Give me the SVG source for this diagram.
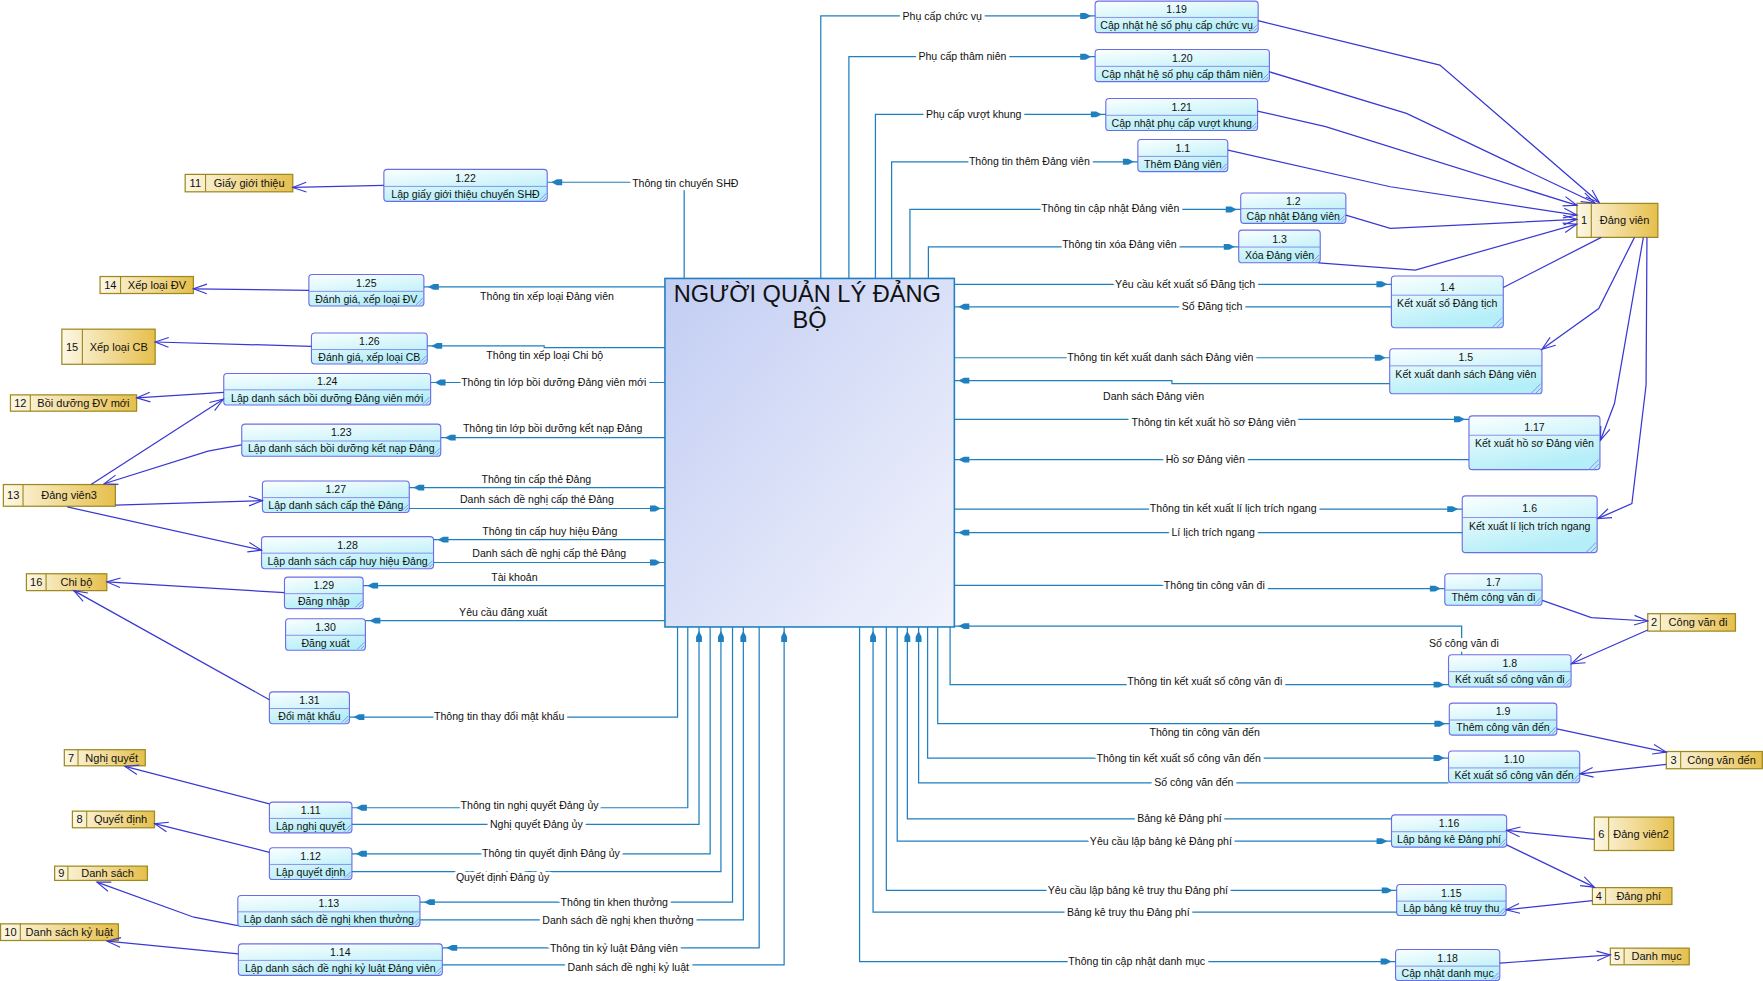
<svg xmlns="http://www.w3.org/2000/svg" width="1763" height="981" viewBox="0 0 1763 981">
<defs>
<linearGradient id="pg" x1="0" y1="0" x2="0.4" y2="1"><stop offset="0" stop-color="#fbffff"/><stop offset="1" stop-color="#b4eef8"/></linearGradient>
<linearGradient id="sg" x1="0" y1="0" x2="1" y2="0"><stop offset="0" stop-color="#fdf8e6"/><stop offset="1" stop-color="#e6bf4c"/></linearGradient>
<linearGradient id="mg" x1="0" y1="0" x2="1" y2="1"><stop offset="0" stop-color="#c2cdf3"/><stop offset="1" stop-color="#f1f3fc"/></linearGradient>
<marker id="a" markerUnits="userSpaceOnUse" markerWidth="16" markerHeight="8" refX="0" refY="0" orient="auto" overflow="visible"><path d="M-13.3,-2.6 L-8.6,-2.6 L-3.6,0 L-8.6,2.6 L-13.3,2.6 Z" fill="#1f7fbf"/></marker>
<marker id="o" markerUnits="userSpaceOnUse" markerWidth="14" markerHeight="12" refX="12" refY="6" orient="auto" overflow="visible"><path d="M0,1.7 L12,6 L0,10.3" fill="none" stroke="#3838d4" stroke-width="1"/></marker>
</defs>
<style>
text{font-family:"Liberation Sans",Arial,sans-serif;font-size:9.4px;fill:#111;text-anchor:middle}
.p rect{fill:url(#pg);stroke:#6c6ce6;stroke-width:1}
.p line,.p path{stroke:#8484ea;stroke-width:0.8;fill:none}
.s rect{fill:url(#sg);stroke:#9c8a20;stroke-width:1.1}
.s line{stroke:#9c8a20;stroke-width:1}
.s text{font-size:9.8px}
.f polyline{fill:none;stroke:#1f7fbf;stroke-width:1.1;marker-end:url(#a)}
.d polyline{fill:none;stroke:#3838d4;stroke-width:1.1;marker-end:url(#o)}
.d polyline.n{marker-end:none}
.l{paint-order:stroke;stroke:#fff;stroke-width:6px;stroke-linejoin:round}
.title{font-size:21px;fill:#111}
</style>
<rect width="1763" height="981" fill="#fff"/>
<g transform="scale(1.12436,1.125)">
<g id="main">
<rect x="591.4" y="247.5" width="257.4" height="309.8" fill="url(#mg)" stroke="#1f7fbf" stroke-width="1.4"/>
<text class="title" x="718" y="268.3">NGƯỜI QUẢN LÝ ĐẢNG</text>
<text class="title" x="720" y="291.8">BỘ</text>
</g>
<g id="processes">
<g id="p1_19" class="p"><rect x="974" y="1" width="145" height="28" rx="3"/><line x1="974" y1="15.5" x2="1119" y2="15.5"/><path d="M1118,22 L1112,28 M1118,25 L1115,28"/><text x="1046.5" y="11.5">1.19</text><text x="1046.5" y="25.5">Cập nhật hệ số phụ cấp chức vụ</text></g>
<g id="p1_20" class="p"><rect x="974" y="44" width="155" height="28.5" rx="3"/><line x1="974" y1="59" x2="1129" y2="59"/><path d="M1128,65.5 L1122,71.5 M1128,68.5 L1125,71.5"/><text x="1051.5" y="55">1.20</text><text x="1051.5" y="69">Cập nhật hệ số phụ cấp thâm niên</text></g>
<g id="p1_21" class="p"><rect x="983.5" y="87.5" width="135" height="28.5" rx="3"/><line x1="983.5" y1="102.5" x2="1118.5" y2="102.5"/><path d="M1117.5,109 L1111.5,115 M1117.5,112 L1114.5,115"/><text x="1051" y="98.5">1.21</text><text x="1051" y="112.5">Cập nhật phụ cấp vượt khung</text></g>
<g id="p1_1" class="p"><rect x="1012" y="124" width="80" height="28.5" rx="3"/><line x1="1012" y1="139" x2="1092" y2="139"/><path d="M1091,145.5 L1085,151.5 M1091,148.5 L1088,151.5"/><text x="1052" y="135">1.1</text><text x="1052" y="149">Thêm Đảng viên</text></g>
<g id="p1_2" class="p"><rect x="1103.5" y="171.5" width="93.5" height="27" rx="3"/><line x1="1103.5" y1="185.5" x2="1197" y2="185.5"/><path d="M1196,191.5 L1190,197.5 M1196,194.5 L1193,197.5"/><text x="1150.2" y="182">1.2</text><text x="1150.2" y="195.5">Cập nhật Đảng viên</text></g>
<g id="p1_3" class="p"><rect x="1101.7" y="204.6" width="72.5" height="29" rx="3"/><line x1="1101.7" y1="219.6" x2="1174.2" y2="219.6"/><path d="M1173.2,226.6 L1167.2,232.6 M1173.2,229.6 L1170.2,232.6"/><text x="1138" y="215.6">1.3</text><text x="1138" y="230">Xóa Đảng viên</text></g>
<g id="p1_4" class="p"><rect x="1237.5" y="245.3" width="99.5" height="46" rx="3"/><line x1="1237.5" y1="262.4" x2="1337" y2="262.4"/><path d="M1336,282.3 L1327,291.3 M1336,286.3 L1331,291.3"/><text x="1287.2" y="258.5">1.4</text><text x="1287.2" y="273">Kết xuất sổ Đảng tịch</text></g>
<g id="p1_5" class="p"><rect x="1236" y="310" width="135.4" height="40" rx="3"/><line x1="1236" y1="325.2" x2="1371.4" y2="325.2"/><path d="M1370.4,341 L1361.4,350 M1370.4,345 L1365.4,350"/><text x="1303.7" y="320.7">1.5</text><text x="1303.7" y="336">Kết xuất danh sách Đảng viên</text></g>
<g id="p1_17" class="p"><rect x="1306.5" y="369.7" width="116.5" height="47.7" rx="3"/><line x1="1306.5" y1="386.9" x2="1423" y2="386.9"/><path d="M1422,408.4 L1413,417.4 M1422,412.4 L1417,417.4"/><text x="1364.7" y="383">1.17</text><text x="1364.7" y="397.5">Kết xuất hồ sơ Đảng viên</text></g>
<g id="p1_6" class="p"><rect x="1300.5" y="440.8" width="120" height="50.4" rx="3"/><line x1="1300.5" y1="460" x2="1420.5" y2="460"/><path d="M1419.5,482.2 L1410.5,491.2 M1419.5,486.2 L1414.5,491.2"/><text x="1360.5" y="455.5">1.6</text><text x="1360.5" y="471">Kết xuất lí lịch trích ngang</text></g>
<g id="p1_7" class="p"><rect x="1285" y="510" width="86.5" height="28" rx="3"/><line x1="1285" y1="524.5" x2="1371.5" y2="524.5"/><path d="M1370.5,531 L1364.5,537 M1370.5,534 L1367.5,537"/><text x="1328.2" y="520.5">1.7</text><text x="1328.2" y="534.5">Thêm công văn đi</text></g>
<g id="p1_8" class="p"><rect x="1288.3" y="582" width="109" height="28.7" rx="3"/><line x1="1288.3" y1="597" x2="1397.3" y2="597"/><path d="M1396.3,603.7 L1390.3,609.7 M1396.3,606.7 L1393.3,609.7"/><text x="1342.8" y="593">1.8</text><text x="1342.8" y="607">Kết xuất sổ công văn đi</text></g>
<g id="p1_9" class="p"><rect x="1289" y="625" width="95.6" height="28.4" rx="3"/><line x1="1289" y1="640" x2="1384.6" y2="640"/><path d="M1383.6,646.4 L1377.6,652.4 M1383.6,649.4 L1380.6,652.4"/><text x="1336.8" y="636">1.9</text><text x="1336.8" y="650">Thêm công văn đến</text></g>
<g id="p1_10" class="p"><rect x="1288.3" y="667.6" width="116.7" height="28.2" rx="3"/><line x1="1288.3" y1="682.6" x2="1405" y2="682.6"/><path d="M1404,688.8 L1398,694.8 M1404,691.8 L1401,694.8"/><text x="1346.6" y="678.6">1.10</text><text x="1346.6" y="692.6">Kết xuất sổ công văn đến</text></g>
<g id="p1_16" class="p"><rect x="1237.6" y="724.3" width="102.4" height="28.7" rx="3"/><line x1="1237.6" y1="739.3" x2="1340" y2="739.3"/><path d="M1339,746 L1333,752 M1339,749 L1336,752"/><text x="1288.8" y="735.3">1.16</text><text x="1288.8" y="749.3">Lập bảng kê Đảng phí</text></g>
<g id="p1_15" class="p"><rect x="1242.2" y="786.2" width="97.3" height="27.6" rx="3"/><line x1="1242.2" y1="801" x2="1339.5" y2="801"/><path d="M1338.5,806.8 L1332.5,812.8 M1338.5,809.8 L1335.5,812.8"/><text x="1290.8" y="797">1.15</text><text x="1290.8" y="810.7">Lập bảng kê truy thu</text></g>
<g id="p1_18" class="p"><rect x="1241.2" y="844" width="92.7" height="27.6" rx="3"/><line x1="1241.2" y1="858.8" x2="1333.9" y2="858.8"/><path d="M1332.9,864.6 L1326.9,870.6 M1332.9,867.6 L1329.9,870.6"/><text x="1287.5" y="854.8">1.18</text><text x="1287.5" y="868.5">Cập nhật danh mục</text></g>
<g id="p1_22" class="p"><rect x="341.4" y="150.6" width="145.3" height="28.4" rx="3"/><line x1="341.4" y1="165.7" x2="486.7" y2="165.7"/><path d="M485.7,172 L479.7,178 M485.7,175 L482.7,178"/><text x="414" y="161.6">1.22</text><text x="414" y="175.6">Lập giấy giới thiệu chuyển SHĐ</text></g>
<g id="p1_25" class="p"><rect x="274.7" y="244" width="102.3" height="28" rx="3"/><line x1="274.7" y1="259" x2="377" y2="259"/><path d="M376,265 L370,271 M376,268 L373,271"/><text x="325.8" y="255">1.25</text><text x="325.8" y="269">Đánh giá, xếp loại ĐV</text></g>
<g id="p1_26" class="p"><rect x="277" y="296" width="103" height="27.5" rx="3"/><line x1="277" y1="310.7" x2="380" y2="310.7"/><path d="M379,316.5 L373,322.5 M379,319.5 L376,322.5"/><text x="328.5" y="306.7">1.26</text><text x="328.5" y="320.5">Đánh giá, xếp loại CB</text></g>
<g id="p1_24" class="p"><rect x="199" y="332" width="184" height="28" rx="3"/><line x1="199" y1="346.5" x2="383" y2="346.5"/><path d="M382,353 L376,359 M382,356 L379,359"/><text x="291" y="342.5">1.24</text><text x="291" y="357">Lập danh sách bồi dưỡng Đảng viên mới</text></g>
<g id="p1_23" class="p"><rect x="215" y="377" width="177" height="28.6" rx="3"/><line x1="215" y1="392" x2="392" y2="392"/><path d="M391,398.6 L385,404.6 M391,401.6 L388,404.6"/><text x="303.5" y="388">1.23</text><text x="303.5" y="402">Lập danh sách bồi dưỡng kết nạp Đảng</text></g>
<g id="p1_27" class="p"><rect x="233.4" y="427.5" width="130.6" height="28" rx="3"/><line x1="233.4" y1="442.3" x2="364" y2="442.3"/><path d="M363,448.5 L357,454.5 M363,451.5 L360,454.5"/><text x="298.7" y="438.3">1.27</text><text x="298.7" y="452.3">Lập danh sách cấp thẻ Đảng</text></g>
<g id="p1_28" class="p"><rect x="232.6" y="477" width="153" height="28.5" rx="3"/><line x1="232.6" y1="491.7" x2="385.6" y2="491.7"/><path d="M384.6,498.5 L378.6,504.5 M384.6,501.5 L381.6,504.5"/><text x="309.1" y="487.7">1.28</text><text x="309.1" y="502">Lập danh sách cấp huy hiệu Đảng</text></g>
<g id="p1_29" class="p"><rect x="253" y="513" width="70" height="28" rx="3"/><line x1="253" y1="527.7" x2="323" y2="527.7"/><path d="M322,534 L316,540 M322,537 L319,540"/><text x="288" y="523.7">1.29</text><text x="288" y="538">Đăng nhập</text></g>
<g id="p1_30" class="p"><rect x="254" y="550" width="71" height="28" rx="3"/><line x1="254" y1="564.7" x2="325" y2="564.7"/><path d="M324,571 L318,577 M324,574 L321,577"/><text x="289.5" y="560.7">1.30</text><text x="289.5" y="575">Đăng xuất</text></g>
<g id="p1_31" class="p"><rect x="239.6" y="615" width="71.2" height="28.3" rx="3"/><line x1="239.6" y1="629.8" x2="310.8" y2="629.8"/><path d="M309.8,636.3 L303.8,642.3 M309.8,639.3 L306.8,642.3"/><text x="275.2" y="625.8">1.31</text><text x="275.2" y="640">Đổi mật khẩu</text></g>
<g id="p1_11" class="p"><rect x="239.6" y="713" width="73.4" height="27.3" rx="3"/><line x1="239.6" y1="727.5" x2="313" y2="727.5"/><path d="M312,733.3 L306,739.3 M312,736.3 L309,739.3"/><text x="276.3" y="723.5">1.11</text><text x="276.3" y="737.5">Lập nghị quyết</text></g>
<g id="p1_12" class="p"><rect x="239.6" y="753.6" width="73.4" height="28.2" rx="3"/><line x1="239.6" y1="768.4" x2="313" y2="768.4"/><path d="M312,774.8 L306,780.8 M312,777.8 L309,780.8"/><text x="276.3" y="764.4">1.12</text><text x="276.3" y="778.6">Lập quyết định</text></g>
<g id="p1_13" class="p"><rect x="211.5" y="796" width="162" height="27.6" rx="3"/><line x1="211.5" y1="810.5" x2="373.5" y2="810.5"/><path d="M372.5,816.6 L366.5,822.6 M372.5,819.6 L369.5,822.6"/><text x="292.5" y="806.5">1.13</text><text x="292.5" y="820.4">Lập danh sách đề nghị khen thưởng</text></g>
<g id="p1_14" class="p"><rect x="212" y="839" width="181.4" height="28" rx="3"/><line x1="212" y1="853.7" x2="393.4" y2="853.7"/><path d="M392.4,860 L386.4,866 M392.4,863 L389.4,866"/><text x="302.7" y="849.7">1.14</text><text x="302.7" y="864">Lập danh sách đề nghị kỷ luật Đảng viên</text></g>
</g>
<g id="stores">
<g id="s1" class="s"><rect x="1402.5" y="180.8" width="72" height="30.2"/><line x1="1415.3" y1="180.8" x2="1415.3" y2="211"/><text x="1408.9" y="199.4">1</text><text x="1444.9" y="199.4">Đảng viên</text></g>
<g id="s2" class="s"><rect x="1465.5" y="545.5" width="78" height="15.5"/><line x1="1476.8" y1="545.5" x2="1476.8" y2="561"/><text x="1471.2" y="556.7">2</text><text x="1510.2" y="556.7">Công văn đi</text></g>
<g id="s3" class="s"><rect x="1482" y="668" width="85.4" height="15.3"/><line x1="1494.8" y1="668" x2="1494.8" y2="683.3"/><text x="1488.4" y="679.2">3</text><text x="1531.1" y="679.2">Công văn đến</text></g>
<g id="s6" class="s"><rect x="1418" y="726.3" width="70.6" height="29.7"/><line x1="1430.7" y1="726.3" x2="1430.7" y2="756"/><text x="1424.3" y="744.6">6</text><text x="1459.6" y="744.6">Đảng viên2</text></g>
<g id="s4" class="s"><rect x="1416.3" y="789" width="70.7" height="15"/><line x1="1428" y1="789" x2="1428" y2="804"/><text x="1422.1" y="800">4</text><text x="1457.5" y="800">Đảng phí</text></g>
<g id="s5" class="s"><rect x="1432.2" y="842.8" width="70.2" height="14.8"/><line x1="1444.5" y1="842.8" x2="1444.5" y2="857.6"/><text x="1438.3" y="853.7">5</text><text x="1473.4" y="853.7">Danh mục</text></g>
<g id="s11" class="s"><rect x="164.7" y="155" width="95.7" height="15.5"/><line x1="182.8" y1="155" x2="182.8" y2="170.5"/><text x="173.7" y="166.2">11</text><text x="221.6" y="166.2">Giấy giới thiệu</text></g>
<g id="s14" class="s"><rect x="89" y="245.8" width="83" height="15.1"/><line x1="107.2" y1="245.8" x2="107.2" y2="260.9"/><text x="98.1" y="256.8">14</text><text x="139.6" y="256.8">Xếp loại ĐV</text></g>
<g id="s15" class="s"><rect x="55" y="292.6" width="83" height="31.2"/><line x1="73.3" y1="292.6" x2="73.3" y2="323.8"/><text x="64.1" y="311.6">15</text><text x="105.6" y="311.6">Xếp loại CB</text></g>
<g id="s12" class="s"><rect x="9.3" y="351" width="112.2" height="14.5"/><line x1="27" y1="351" x2="27" y2="365.5"/><text x="18.1" y="361.7">12</text><text x="74.2" y="361.7">Bồi dưỡng ĐV mới</text></g>
<g id="s13" class="s"><rect x="3" y="430.7" width="99.6" height="19.3"/><line x1="20.5" y1="430.7" x2="20.5" y2="450"/><text x="11.7" y="443.8">13</text><text x="61.5" y="443.8">Đảng viên3</text></g>
<g id="s16" class="s"><rect x="23.5" y="510" width="71.5" height="15"/><line x1="41" y1="510" x2="41" y2="525"/><text x="32.2" y="521">16</text><text x="68" y="521">Chi bộ</text></g>
<g id="s7" class="s"><rect x="57.2" y="666.4" width="72" height="14.3"/><line x1="69.4" y1="666.4" x2="69.4" y2="680.7"/><text x="63.3" y="677">7</text><text x="99.3" y="677">Nghị quyết</text></g>
<g id="s8" class="s"><rect x="64.4" y="721" width="73" height="14.8"/><line x1="77.1" y1="721" x2="77.1" y2="735.8"/><text x="70.7" y="731.9">8</text><text x="107.2" y="731.9">Quyết định</text></g>
<g id="s9" class="s"><rect x="48.6" y="769.9" width="82.5" height="12.7"/><line x1="60.4" y1="769.9" x2="60.4" y2="782.6"/><text x="54.5" y="779.8">9</text><text x="95.7" y="779.8">Danh sách</text></g>
<g id="s10" class="s"><rect x="0.5" y="821.2" width="104.8" height="14.8"/><line x1="18.1" y1="821.2" x2="18.1" y2="836"/><text x="9.3" y="832.1">10</text><text x="61.7" y="832.1">Danh sách kỷ luật</text></g>
</g>
<g id="connectors">
<g class="d">
<polyline points="1118.8,18.4 1280.6,57.8 1422.3,180"/>
<polyline points="1128.6,63.7 1250.9,100.8 1418.5,180.5"/>
<polyline points="1118.4,98.7 1179,112.6 1402.5,182.5"/>
<polyline points="1092.2,133.4 1236.5,166 1402.5,191.2"/>
<polyline points="1197,191.2 1236.5,203 1402.5,195"/>
<polyline points="1172.6,233.6 1258.8,240 1402.5,199.2"/>
<polyline class="n" points="1424.2,211 1337,255.5"/>
<polyline points="1453.7,211 1421.9,274.2 1371.4,310.4"/>
<polyline points="1461.6,211 1435.9,358.7 1423.5,391.3"/>
<polyline points="1464.8,211 1464,342.4 1451.4,447.6 1421,461"/>
<polyline points="1371.7,533.6 1415.3,549 1465.5,552"/>
<polyline points="1465.5,560 1397.5,590"/>
<polyline points="1384.6,647.8 1482,668.5"/>
<polyline points="1482,679.5 1405,687.8"/>
<polyline points="1418,746.2 1340,738.2"/>
<polyline points="1340,751 1418,788.6"/>
<polyline points="1416.3,800.6 1339.5,808.7"/>
<polyline points="1333.9,856.2 1432.2,848.8"/>
<polyline points="341.4,164.8 260.4,166.6"/>
<polyline points="274.7,258.2 172,256.7"/>
<polyline points="277,307.8 138,304"/>
<polyline points="199,348.7 121.5,353.7"/>
<polyline points="81,430.7 198.6,354.9"/>
<polyline points="214.8,395.5 185,401 92.6,430"/>
<polyline points="102.6,449 233.4,445"/>
<polyline points="59.8,450.6 232.6,489"/>
<polyline points="253,526.8 95,517.3"/>
<polyline points="239.6,622 65.6,525"/>
<polyline points="239.6,714.5 111.2,681.3"/>
<polyline points="239.6,757.6 137.5,732.2"/>
<polyline points="211.5,822.7 172.4,815.3 86.2,784.1"/>
<polyline points="211.9,847.9 95.3,836.6"/>
</g>
<g class="f">
<polyline points="730,247.5 730,14.2 974,14.2"/>
<polyline points="755,247.5 755,50.4 974,50.4"/>
<polyline points="778.6,247.5 778.6,101.7 983.5,101.7"/>
<polyline points="793,247.5 793,143.8 1012,143.8"/>
<polyline points="809.3,247.5 809.3,186.2 1103.5,186.2"/>
<polyline points="825.7,247.5 825.7,219.4 1101.7,219.4"/>
<polyline points="608.5,247.5 608.5,162 486.7,162"/>
<polyline points="848.8,252.7 1237.5,252.7"/>
<polyline points="1237.5,272.7 848.8,272.7"/>
<polyline points="848.8,318 1236,318"/>
<polyline points="1236,341 1042.3,341 1042.3,338.3 848.8,338.3"/>
<polyline points="848.8,372.7 1306.5,372.7"/>
<polyline points="1306.5,408.5 848.8,408.5"/>
<polyline points="848.8,452.5 1300.5,452.5"/>
<polyline points="1300.5,473.4 848.8,473.4"/>
<polyline points="848.8,520.3 1126,520.3 1126,523.2 1285,523.2"/>
<polyline points="1300,582 1300,556.5 848.8,556.5"/>
<polyline points="845,557.3 845,608.6 1288.3,608.6"/>
<polyline points="834,557.3 834,643.3 1289,643.3"/>
<polyline points="825,557.3 825,673.8 1288.3,673.8"/>
<polyline points="1288.3,695.8 817,695.8 817,557.3"/>
<polyline points="1237.6,727.8 807,727.8 807,557.3"/>
<polyline points="798,557.3 798,747.7 1237.6,747.7"/>
<polyline points="788.3,557.3 788.3,791.5 1242.2,791.5"/>
<polyline points="1242.2,810.8 776.5,810.8 776.5,557.3"/>
<polyline points="764.5,557.3 764.5,854.7 1241.2,854.7"/>
<polyline points="591.4,255 377,255"/>
<polyline points="591.4,309 484,309 484,307.5 380,307.5"/>
<polyline points="591.4,340 383,340"/>
<polyline points="591.4,389 392,389"/>
<polyline points="591.4,433.4 364,433.4"/>
<polyline points="364,452 591.4,452"/>
<polyline points="591.4,479.7 385.6,479.7"/>
<polyline points="385.6,500 591.4,500"/>
<polyline points="591.4,520.6 323,520.6"/>
<polyline points="591.4,551.7 325,551.7"/>
<polyline points="602.6,557.3 602.6,637.4 310.8,637.4"/>
<polyline points="611.7,557.3 611.7,718 313,718"/>
<polyline points="313,732.8 621.7,732.8 621.7,557.3"/>
<polyline points="631.6,557.3 631.6,758.9 313,758.9"/>
<polyline points="313,774.7 641.2,774.7 641.2,557.3"/>
<polyline points="651.5,557.3 651.5,801.9 373.5,801.9"/>
<polyline points="373.5,817.6 661.1,817.6 661.1,557.3"/>
<polyline points="675.2,557.3 675.2,842.5 393.4,842.5"/>
<polyline points="393.4,857.6 697.4,857.6 697.4,557.3"/>
</g>
<g id="labels">
<text class="l" x="838" y="17.5">Phụ cấp chức vụ</text>
<text class="l" x="856" y="53.7">Phụ cấp thâm niên</text>
<text class="l" x="866" y="105">Phụ cấp vượt khung</text>
<text class="l" x="915.5" y="147">Thông tin thêm Đảng viên</text>
<text class="l" x="987.5" y="188.5">Thông tin cập nhật Đảng viên</text>
<text class="l" x="995.6" y="220.5">Thông tin xóa Đảng viên</text>
<text class="l" x="609.5" y="165.8">Thông tin chuyển SHĐ</text>
<text class="l" x="1054" y="256">Yêu cầu kết xuất sổ Đăng tịch</text>
<text class="l" x="1078" y="276">Sổ Đăng tịch</text>
<text class="l" x="1032" y="321.3">Thông tin kết xuất danh sách Đảng viên</text>
<text x="1026" y="356">Danh sách Đảng viên</text>
<text class="l" x="1079.5" y="379">Thông tin kết xuất hồ sơ Đảng viên</text>
<text class="l" x="1072" y="411.8">Hồ sơ Đảng viên</text>
<text class="l" x="1096.8" y="455">Thông tin kết xuất lí lịch trích ngang</text>
<text class="l" x="1079" y="476.7">Lí lịch trích ngang</text>
<text class="l" x="1080" y="523.6">Thông tin công văn đi</text>
<text class="l" x="1302" y="575.3">Số công văn đi</text>
<text class="l" x="1071.5" y="609.3">Thông tin kết xuất sổ công văn đi</text>
<text x="1071.4" y="654">Thông tin công văn đến</text>
<text class="l" x="1048.3" y="677">Thông tin kết xuất sổ công văn đến</text>
<text class="l" x="1061.8" y="699">Số công văn đến</text>
<text class="l" x="1049" y="731">Bảng kê Đảng phí</text>
<text class="l" x="1032.5" y="751">Yêu cầu lập bảng kê Đảng phí</text>
<text class="l" x="1012" y="794.3">Yêu cầu lập bảng kê truy thu Đảng phí</text>
<text class="l" x="1003.5" y="814">Bảng kê truy thu Đảng phí</text>
<text class="l" x="1011" y="858">Thông tin cập nhật danh mục</text>
<text x="486.5" y="266.3">Thông tin xếp loại Đảng viên</text>
<text x="484.5" y="318.8">Thông tin xếp loại Chi bộ</text>
<text class="l" x="492.5" y="343.3">Thông tin lớp bồi dưỡng Đảng viên mới</text>
<text x="491.5" y="384.3">Thông tin lớp bồi dưỡng kết nạp Đảng</text>
<text x="477" y="429">Thông tin cấp thẻ Đảng</text>
<text x="477.5" y="446.8">Danh sách đề nghị cấp thẻ Đảng</text>
<text x="489" y="475.3">Thông tin cấp huy hiệu Đảng</text>
<text x="488.5" y="494.8">Danh sách đề nghị cấp thẻ Đảng</text>
<text x="457.5" y="516.3">Tài khoản</text>
<text x="447.5" y="547.3">Yêu cầu đăng xuất</text>
<text class="l" x="444" y="639.8">Thông tin thay đổi mật khẩu</text>
<text class="l" x="471" y="719.5">Thông tin nghị quyết Đảng ủy</text>
<text class="l" x="477" y="736">Nghị quyết Đảng ủy</text>
<text class="l" x="490" y="762.2">Thông tin quyết định Đảng ủy</text>
<text class="l" x="447" y="783">Quyết định Đảng ủy</text>
<text class="l" x="546.3" y="805.2">Thông tin khen thưởng</text>
<text class="l" x="549.7" y="821">Danh sách đề nghị khen thưởng</text>
<text class="l" x="546" y="845.8">Thông tin kỷ luật Đảng viên</text>
<text class="l" x="558.8" y="863.5">Danh sách đề nghị kỷ luật</text>
</g>
</g>
</g>
</svg>
